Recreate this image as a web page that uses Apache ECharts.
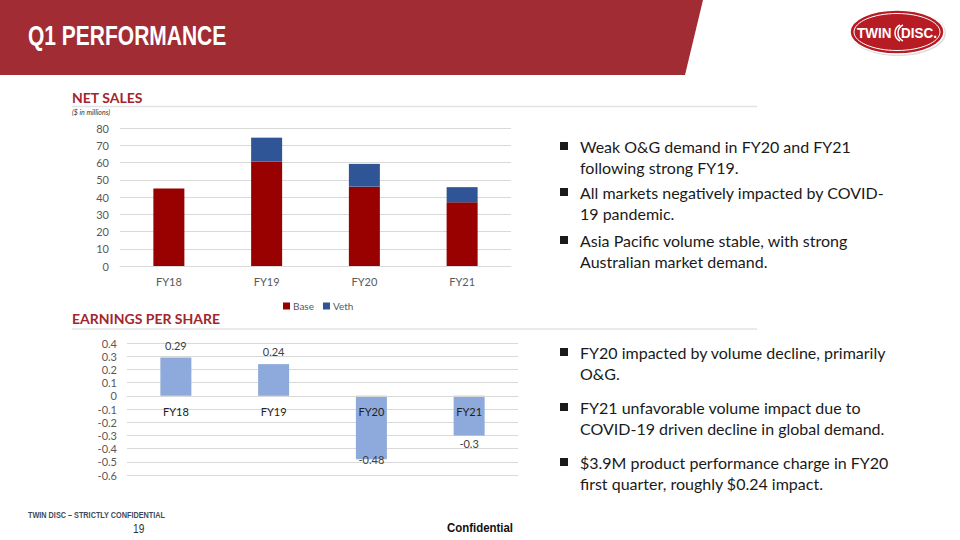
<!DOCTYPE html>
<html>
<head>
<meta charset="utf-8">
<script src="https://cdn.jsdelivr.net/npm/echarts@6/dist/echarts.min.js"></script>
<style>
html,body{margin:0;padding:0;background:#fff;}
#c{width:960px;height:540px;}
</style>
</head>
<body>
<div id="c"></div>
<script>
// ---- data ----
var categories = ['FY18', 'FY19', 'FY20', 'FY21'];
var salesBase = [45.0, 60.6, 46.0, 36.9];
var salesVeth = [0, 13.8, 13.2, 8.8];
var epsValues = [0.29, 0.24, -0.48, -0.3];
var salesSeriesNames = ['Base', 'Veth'];
var bulletsTop = [
  ['Weak O&G demand in FY20 and FY21', 'following strong FY19.'],
  ['All markets negatively impacted by COVID-', '19 pandemic.'],
  ['Asia Pacific volume stable, with strong', 'Australian market demand.']
];
var bulletsBottom = [
  ['FY20 impacted by volume decline, primarily', 'O&G.'],
  ['FY21 unfavorable volume impact due to', 'COVID-19 driven decline in global demand.'],
  ['$3.9M product performance charge in FY20', 'first quarter, roughly $0.24 impact.']
];

var chart = echarts.init(document.getElementById('c'), null, {renderer: 'svg'});
var FONT = 'Lato, "Open Sans", sans-serif';
var ARIAL = '"Liberation Sans", Arial, sans-serif';
var RED = '#A3262D';

function fmtTick(v) {
  if (Math.abs(v) < 1e-9) return '0';
  return String(+v.toFixed(1));
}

var graphics = [];
// header band
graphics.push({type: 'polygon', shape: {points: [[0,0],[703,0],[685,75],[0,75]]}, style: {fill: '#A12C34'}, silent: true});
graphics.push({type: 'text', x: 28, y: 35, scaleX: 0.75, style: {text: 'Q1 PERFORMANCE', fill: '#fff', font: 'bold 28px ' + ARIAL, textVerticalAlign: 'middle', textAlign: 'left'}});
// logo
graphics.push({type: 'ellipse', shape: {cx: 898, cy: 33, rx: 48, ry: 23}, style: {fill: '#ddd'}});
graphics.push({type: 'ellipse', shape: {cx: 897, cy: 32, rx: 47, ry: 22}, style: {fill: '#B71C25', stroke: '#fff', lineWidth: 1.5}});
graphics.push({type: 'ellipse', shape: {cx: 897, cy: 32, rx: 43, ry: 18.5}, style: {fill: 'none', stroke: '#fff', lineWidth: 1}});
graphics.push({type: 'text', x: 857, y: 33, scaleX: 0.9, style: {text: 'TWIN', fill: '#fff', font: 'bold 15px ' + ARIAL, textVerticalAlign: 'middle', textAlign: 'left'}});
graphics.push({type: 'arc', shape: {cx: 904, cy: 33, r: 9, startAngle: Math.PI*0.65, endAngle: Math.PI*1.35}, style: {stroke: '#fff', fill: 'none', lineWidth: 1.5}});
graphics.push({type: 'arc', shape: {cx: 907, cy: 33, r: 9, startAngle: Math.PI*0.65, endAngle: Math.PI*1.35}, style: {stroke: '#fff', fill: 'none', lineWidth: 1.5}});
graphics.push({type: 'text', x: 901, y: 33, scaleX: 0.9, style: {text: 'DISC.', fill: '#fff', font: 'bold 15px ' + ARIAL, textVerticalAlign: 'middle', textAlign: 'left'}});

// section titles
graphics.push({type: 'text', left: 72, top: 90, style: {text: 'NET SALES', fill: RED, font: 'bold 14px ' + FONT}});
graphics.push({type: 'line', shape: {x1: 72, y1: 106.5, x2: 757, y2: 106.5}, style: {stroke: '#E3E3E3', lineWidth: 1.5}});
graphics.push({type: 'text', left: 72, top: 108, style: {text: '($ in millions)', fill: '#333', font: 'italic 7px ' + FONT}});
graphics.push({type: 'text', left: 72, top: 311, style: {text: 'EARNINGS PER SHARE', fill: RED, font: 'bold 14px ' + FONT}});
graphics.push({type: 'line', shape: {x1: 72, y1: 329, x2: 757, y2: 329}, style: {stroke: '#E3E3E3', lineWidth: 1.5}});

// bullets
function addBullets(list, startY, lineH, groupGaps) {
  var y = startY;
  list.forEach(function (b, i) {
    graphics.push({type: 'rect', shape: {x: 560, y: y - 4, width: 8, height: 8}, style: {fill: '#1a1a1a'}});
    b.forEach(function (line, j) {
      graphics.push({type: 'text', x: 580, y: y + j * lineH, style: {text: line, fill: '#1a1a1a', font: '16px ' + FONT, textVerticalAlign: 'middle', textAlign: 'left'}});
    });
    y += groupGaps[i];
  });
}
addBullets(bulletsTop, 146, 21, [46, 48]);
addBullets(bulletsBottom, 352, 21, [55, 55]);

// footer
graphics.push({type: 'text', x: 28, y: 515, scaleX: 0.81, style: {text: 'TWIN DISC \u2013 STRICTLY CONFIDENTIAL', fill: '#3E4A5C', font: 'bold 9px ' + ARIAL, textVerticalAlign: 'middle', textAlign: 'left'}});
graphics.push({type: 'text', x: 133, y: 529, scaleX: 0.85, style: {text: '19', fill: '#333', font: '12px ' + ARIAL, textVerticalAlign: 'middle', textAlign: 'left'}});
graphics.push({type: 'text', x: 447, y: 528, scaleX: 0.88, style: {text: 'Confidential', fill: '#111', font: 'bold 13px ' + ARIAL, textVerticalAlign: 'middle', textAlign: 'left'}});

var epsData = epsValues.map(function (v, i) {
  var item = {value: v};
  if (v < 0) {
    item.label = {position: 'bottom', distance: 3};
    if (i === 2) item.label.offset = [0, -8];
  }
  return item;
});

var option = {
  animation: false,
  graphic: graphics,
  legend: {
    data: salesSeriesNames,
    left: 278, top: 296,
    itemWidth: 7, itemHeight: 7, itemGap: 9,
    icon: 'rect',
    textStyle: {fontFamily: FONT, fontSize: 10, color: '#595959', padding: [0,0,0,-2]}
  },
  grid: [
    {left: 120, top: 128, width: 391, height: 138},
    {left: 127, top: 343, width: 391, height: 132}
  ],
  xAxis: [
    {type: 'category', gridIndex: 0, data: categories,
     axisLine: {lineStyle: {color: '#D9D9D9'}}, axisTick: {show: false},
     axisLabel: {margin: 10, fontFamily: FONT, fontSize: 11, color: '#595959'}},
    {type: 'category', gridIndex: 1, data: categories, position: 'bottom', offset: -79, z: 10,
     axisLine: {onZero: false, lineStyle: {color: '#D9D9D9'}}, axisTick: {show: false},
     axisLabel: {margin: 10, fontFamily: FONT, fontSize: 11, color: '#222'}}
  ],
  yAxis: [
    {type: 'value', gridIndex: 0, min: 0, max: 80, interval: 10,
     axisLine: {show: false}, axisTick: {show: false},
     splitLine: {lineStyle: {color: '#D9D9D9'}},
     axisLabel: {margin: 11, fontFamily: FONT, fontSize: 11, color: '#595959'}},
    {type: 'value', gridIndex: 1, min: -0.6, max: 0.4, interval: 0.1,
     axisLine: {show: false}, axisTick: {show: false},
     splitLine: {lineStyle: {color: '#D9D9D9'}},
     axisLabel: {margin: 10, fontFamily: FONT, fontSize: 11, color: '#595959', formatter: fmtTick}}
  ],
  series: [
    {name: salesSeriesNames[0], type: 'bar', stack: 's', xAxisIndex: 0, yAxisIndex: 0,
     data: salesBase, barWidth: 31, itemStyle: {color: '#990000'}},
    {name: salesSeriesNames[1], type: 'bar', stack: 's', xAxisIndex: 0, yAxisIndex: 0,
     data: salesVeth, barWidth: 31, itemStyle: {color: '#2F5597'}},
    {name: 'EPS', type: 'bar', xAxisIndex: 1, yAxisIndex: 1, data: epsData, barWidth: 31,
     itemStyle: {color: '#8EA9DB'},
     label: {show: true, position: 'top', distance: 7, fontFamily: FONT, fontSize: 11, color: '#404040',
             formatter: function (p) { return String(p.value); }}}
  ]
};
chart.setOption(option);
</script>
</body>
</html>
